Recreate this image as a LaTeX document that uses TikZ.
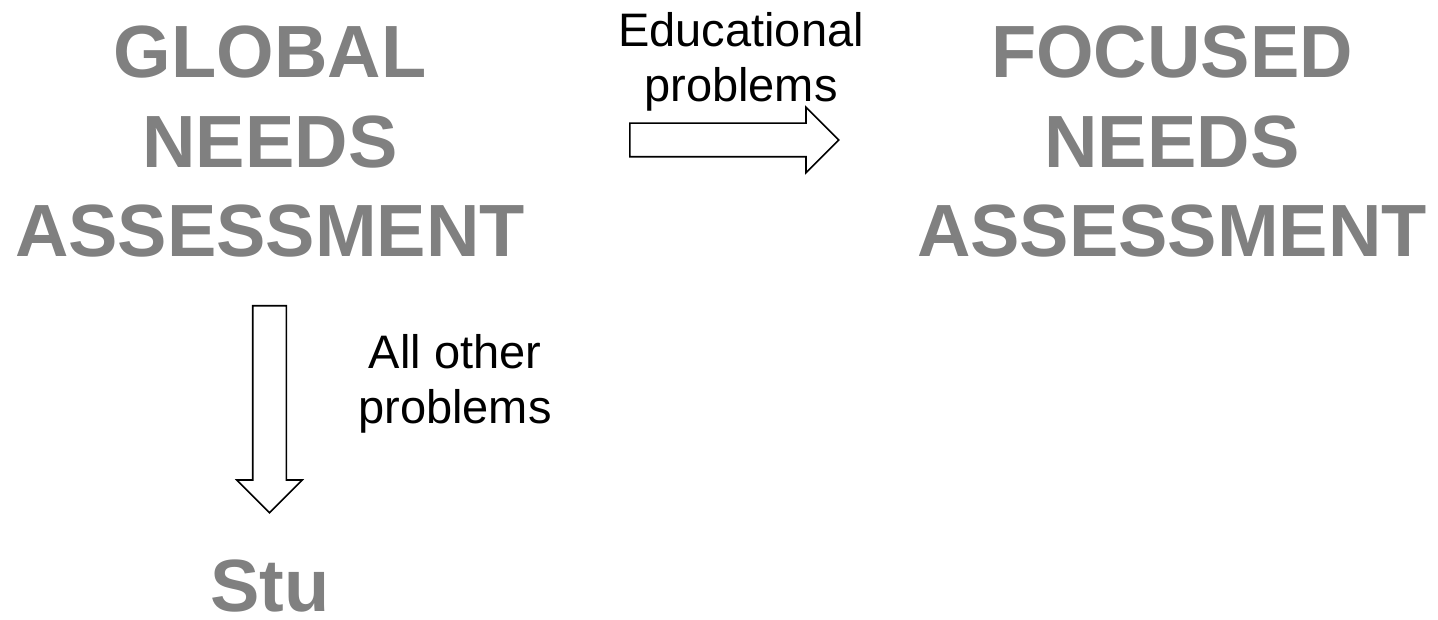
\documentclass[tikz,border=0pt]{standalone}
\usepackage{fontspec}
\setmainfont{Liberation Sans}
\usetikzlibrary{shapes.arrows}
\definecolor{headgray}{RGB}{128,128,128}
\tikzset{
  heading/.style={text=headgray, align=center, inner sep=0pt,
    font=\fontsize{74}{89.5}\selectfont\bfseries},
  note/.style={align=center, inner sep=0pt,
    font=\fontsize{47}{55}\selectfont},
  blockarrow/.style={single arrow, draw=black, fill=white, line width=1.6pt,
    single arrow head extend=16pt, anchor=tail}
}
\begin{document}
\begin{tikzpicture}[x=1pt, y=-1pt]
\useasboundingbox (0,0) rectangle (1438,620);
\node[heading, anchor=base] (global) at (270,257) {GLOBAL\\NEEDS\\ASSESSMENT};
\node[heading, anchor=base] (focused) at (1172,257) {FOCUSED\\NEEDS\\ASSESSMENT};
\node[heading, anchor=base] (stu) at (270,611) {Stu};

\node[blockarrow, minimum height=209pt, inner xsep=0pt, inner ysep=16pt]
  (toFocused) at (629,140) {};
\node[blockarrow, minimum height=207pt, inner xsep=16pt, inner ysep=0pt,
  shape border rotate=270] (toStu) at (269.5,305) {};

\node[note, anchor=base] (edu) at (741,102) {Educational\\problems};
\node[note, anchor=base] (other) at (455,423) {All other\\problems};
\end{tikzpicture}
\end{document}
